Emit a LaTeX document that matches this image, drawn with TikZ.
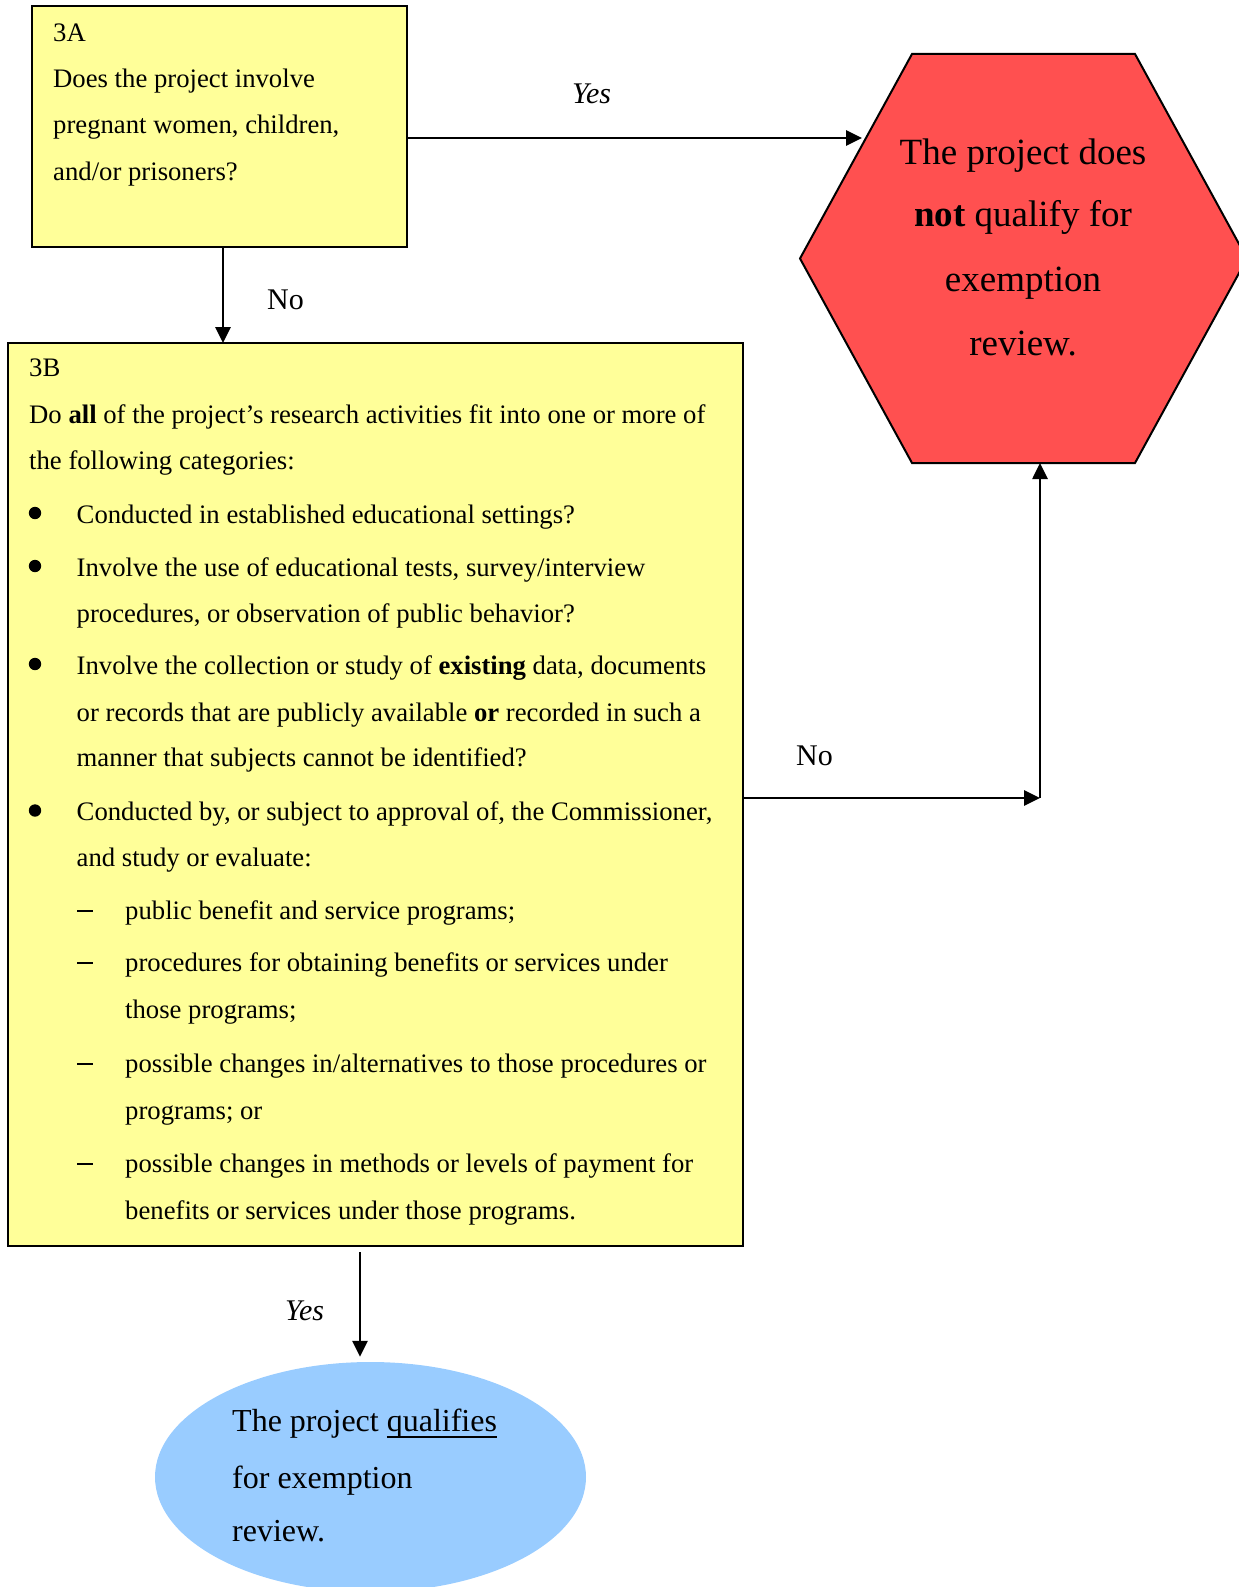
\documentclass[tikz,border=0pt]{standalone}
\usepackage{fontspec}
\setmainfont{Liberation Serif}
\usetikzlibrary{arrows.meta,shapes.geometric,calc}
\definecolor{qyellow}{RGB}{255,255,153}
\definecolor{hexred}{RGB}{255,80,80}
\definecolor{eblue}{RGB}{153,204,255}
\newcommand\myul[1]{\setbox0\hbox{#1}\rlap{\rule[-6pt]{\wd0}{1.8pt}}\box0}
\tikzset{
  qbox/.style={draw=black, line width=2pt, fill=qyellow, rectangle, inner sep=0pt, outer sep=0pt, anchor=north west},
  txt/.style={anchor=base west, inner sep=0pt, font=\fontsize{26.7}{30}\selectfont},
  htxt/.style={anchor=base, inner sep=0pt, font=\fontsize{37}{42}\selectfont},
  etxt/.style={anchor=base west, inner sep=0pt, font=\fontsize{32}{36}\selectfont},
  lbl/.style={anchor=base west, inner sep=0pt, font=\fontsize{30}{34}\selectfont},
  arr/.style={line width=2.7pt, -{Triangle[length=16pt,width=15pt]}},
  hexs/.style={draw=black, line width=2pt, fill=hexred, line join=miter},
  dashmark/.style={line width=1.6pt},
}
\begin{document}
\begin{tikzpicture}[x=1pt,y=-1pt]
\useasboundingbox (0,0) rectangle (1239,1587);
\clip (0,0) rectangle (1239,1587);

% ---- boxes ----
\node[qbox, minimum width=375pt, minimum height=241pt] (b3a) at (32,6) {};
\node[qbox, minimum width=735pt, minimum height=903pt] (b3b) at (8,343) {};

% ---- hexagon ----
\draw[hexs] (800,258.5) -- (912,54) -- (1135,54) -- (1247,258.5) -- (1135,463) -- (912,463) -- cycle;
\coordinate (hexL) at (862,138);
\coordinate (hexB) at (1040,463);
\node[htxt] (h1) at (1023,164) {The project does};
\node[htxt] (h2) at (1023,226.7) {\textbf{not} qualify for};
\node[htxt] (h3) at (1023,291.7) {exemption};
\node[htxt] (h4) at (1023,355) {review.};

% ---- ellipse ----
\node[ellipse, fill=eblue, minimum width=431pt, minimum height=230pt, inner sep=0pt] (ell) at (370.5,1477) {};
\node[etxt] (e1) at (232,1431.7) {The project \myul{qualifies}};
\node[etxt] (e2) at (232,1488) {for exemption};
\node[etxt] (e3) at (232,1541.7) {review.};

% ---- 3A text ----
\node[txt] (a0) at (53,41.7) {3A};
\node[txt] (a1) at (53,87) {Does the project involve};
\node[txt] (a2) at (53,133) {pregnant women, children,};
\node[txt] (a3) at (53,180) {and/or prisoners?};

% ---- 3B text ----
\node[txt] (t0) at (29,376.6) {3B};
\node[txt] (t1) at (29,423) {Do \textbf{all} of the project’s research activities fit into one or more of};
\node[txt] (t2) at (29,469.5) {the following categories:};

\fill (35,513) circle (6.2pt);
\node[txt] (t3) at (76.5,523) {Conducted in established educational settings?};
\fill (35,566) circle (6.2pt);
\node[txt] (t4) at (76.5,576) {Involve the use of educational tests, survey/interview};
\node[txt] (t5) at (76.5,622.5) {procedures, or observation of public behavior?};
\fill (35,664) circle (6.2pt);
\node[txt] (t6) at (76.5,674) {Involve the collection or study of \textbf{existing} data, documents};
\node[txt] (t7) at (76.5,721) {or records that are publicly available \textbf{or} recorded in such a};
\node[txt] (t8) at (76.5,766.5) {manner that subjects cannot be identified?};
\fill (35,810.5) circle (6.2pt);
\node[txt] (t9) at (76.5,820.5) {Conducted by, or subject to approval of, the Commissioner,};
\node[txt] (t10) at (76.5,866.5) {and study or evaluate:};

\draw[dashmark] (77,911) -- (93,911);
\node[txt] (t11) at (125,919) {public benefit and service programs;};
\draw[dashmark] (77,963) -- (93,963);
\node[txt] (t12) at (125,971) {procedures for obtaining benefits or services under};
\node[txt] (t13) at (125,1018.5) {those programs;};
\draw[dashmark] (77,1064) -- (93,1064);
\node[txt] (t14) at (125,1072) {possible changes in/alternatives to those procedures or};
\node[txt] (t15) at (125,1119.5) {programs; or};
\draw[dashmark] (77,1164) -- (93,1164);
\node[txt] (t16) at (125,1172) {possible changes in methods or levels of payment for};
\node[txt] (t17) at (125,1219) {benefits or services under those programs.};

% ---- connectors ----
\draw[arr] ([xshift=3.5pt]b3a.south) -- ([xshift=3.5pt]b3a.south |- b3b.north);
\node[lbl] (no1) at (267,309) {No};

\draw[arr] (b3a.east |- hexL) -- (hexL);
\node[lbl] (yes1) at (572,103) {\itshape Yes};

\coordinate (corner) at (1040,798);
\draw[arr] (b3b.east |- corner) -- (corner);
\draw[arr] (corner) -- (hexB);
\node[lbl] (no2) at (796,765) {No};

\coordinate (ys) at (360,1252);
\draw[arr, shorten >=5pt] (ys) -- (ys |- ell.north);
\node[lbl] (yes2) at (285,1320) {\itshape Yes};
\end{tikzpicture}
\end{document}
